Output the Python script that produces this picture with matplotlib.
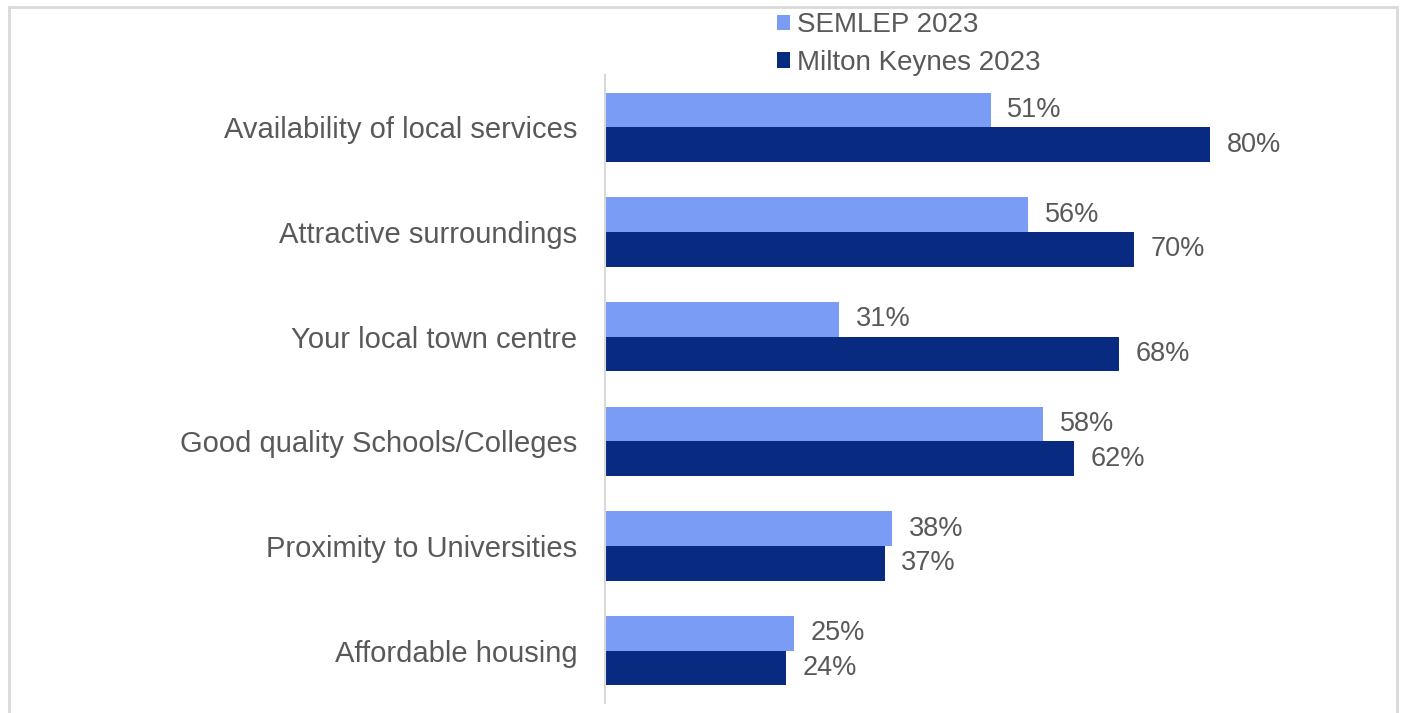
import matplotlib.pyplot as plt
from matplotlib.patches import Rectangle
import numpy as np

plt.rcParams['font.family'] = ['Liberation Sans', 'DejaVu Sans']

categories = ['Availability of local services', 'Attractive surroundings',
              'Your local town centre', 'Good quality Schools/Colleges',
              'Proximity to Universities', 'Affordable housing']
semlep = [51, 56, 31, 58, 38, 25]
milton_keynes = [80, 70, 68, 62, 37, 24]
series_names = ['SEMLEP 2023', 'Milton Keynes 2023']

light_blue = '#7a9cf5'
dark_blue = '#082a80'
text_grey = '#595959'

W, H = 1403, 713
fig = plt.figure(figsize=(W / 100, H / 100), dpi=100)

# light grey frame round the chart area
fig.patches.append(Rectangle((9 / W, -0.05), 1388 / W, 1.05 - 7 / H,
                             transform=fig.transFigure, fill=False,
                             edgecolor='#d9d9d9', linewidth=2))

ax = fig.add_axes([605 / W, 10 / H, 756 / W, 628 / H])

y = np.arange(len(categories))
bh = 0.33
b1 = ax.barh(y - bh / 2, semlep, height=bh, color=light_blue, label=series_names[0])
b2 = ax.barh(y + bh / 2, milton_keynes, height=bh, color=dark_blue, label=series_names[1])

for bars, vals in ((b1, semlep), (b2, milton_keynes)):
    for rect, v in zip(bars, vals):
        ax.annotate(f'{v}%', (v, rect.get_y() + rect.get_height() / 2),
                    xytext=(12, 0), textcoords='offset points',
                    ha='left', va='center', fontsize=19.5, color=text_grey)

ax.set_xlim(0, 100)
ax.set_ylim(len(categories) - 0.5, -0.5)
ax.set_yticks(y)
ax.set_yticklabels(categories, fontsize=21, color=text_grey)
ax.tick_params(axis='y', length=0, pad=20)
ax.set_xticks([])
for side in ('top', 'right', 'bottom'):
    ax.spines[side].set_visible(False)
ax.spines['left'].set_color('#d9d9d9')
ax.spines['left'].set_linewidth(1.5)

fig.legend(handles=[b1, b2], loc='center left',
           bbox_to_anchor=(777 / W, 1 - 44 / H), frameon=False,
           fontsize=20, labelcolor=text_grey, handlelength=0.47, handleheight=0.47,
           handletextpad=0.25, labelspacing=0.42, borderpad=0, borderaxespad=0)

fig.savefig('out.png', dpi=100)
